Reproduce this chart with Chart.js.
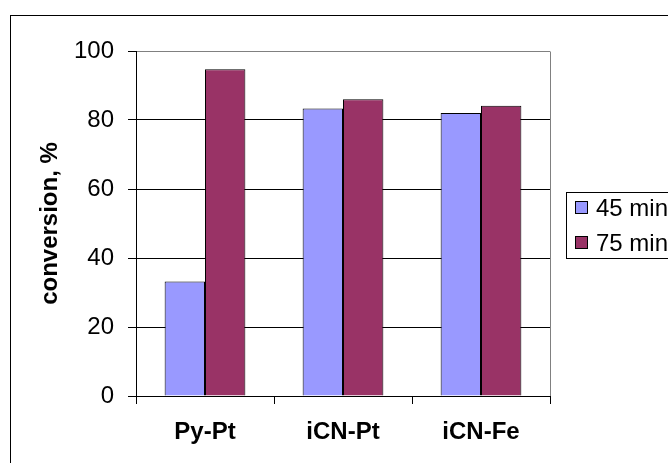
<!DOCTYPE html>
<html>
<head>
<meta charset="utf-8">
<script src="https://cdn.jsdelivr.net/npm/chart.js@4.4.0/dist/chart.umd.min.js"></script>
<style>
  html, body { margin: 0; padding: 0; background: #fff; }
  #wrap { width: 668px; height: 463px; }
</style>
</head>
<body>
<div id="wrap"><canvas id="c" width="668" height="463"></canvas></div>
<script>
const categories = ["Py-Pt", "iCN-Pt", "iCN-Fe"];
const seriesNames = ["45 min", "75 min"];
const values45 = [33.2, 83.3, 82.0];
const values75 = [94.7, 86.0, 84.1];
const yTicks = [0, 20, 40, 60, 80, 100];
const yTitle = "conversion, %";

const FONT = "Arial, 'Liberation Sans', sans-serif";
const colors = ["#9999FF", "#993366"];

const frame = {
  id: 'frame',
  beforeDraw(chart) {
    const ctx = chart.ctx;
    ctx.save();
    ctx.fillStyle = '#fff';
    ctx.fillRect(0, 0, chart.width, chart.height);
    ctx.strokeStyle = '#000';
    ctx.lineWidth = 1;
    ctx.strokeRect(10.5, 15.5, 1000, 1000);
    ctx.restore();
  },
  afterDatasetsDraw(chart) {
    const ctx = chart.ctx;
    const a = chart.chartArea;
    ctx.save();
    ctx.strokeStyle = '#808080';
    ctx.lineWidth = 1;
    ctx.beginPath();
    ctx.moveTo(Math.round(a.right) + 0.5, Math.round(a.top) + 0.5);
    ctx.lineTo(Math.round(a.right) + 0.5, Math.round(a.bottom));
    ctx.stroke();
    ctx.restore();
  },
  afterDraw(chart) {
    const ctx = chart.ctx;
    ctx.save();
    ctx.strokeStyle = '#000';
    ctx.lineWidth = 1;
    ctx.strokeRect(566.5, 192.5, 200, 66);
    ctx.font = "24px " + FONT;
    ctx.textBaseline = 'middle';
    ctx.textAlign = 'left';
    chart.data.datasets.forEach((ds, i) => {
      const yc = 208 + i * 35;
      ctx.fillStyle = ds.backgroundColor;
      ctx.fillRect(575.5, yc - 6.5, 12, 12);
      ctx.strokeRect(575.5, yc - 6.5, 12, 12);
      ctx.fillStyle = '#000';
      ctx.fillText(ds.label, 596, yc + 1);
    });
    ctx.restore();
  }
};

Chart.defaults.color = '#000';
Chart.defaults.font.family = FONT;

new Chart(document.getElementById('c'), {
  type: 'bar',
  data: {
    labels: categories,
    datasets: [
      { label: seriesNames[0], data: values45, backgroundColor: colors[0], borderColor: '#000', borderWidth: 1 },
      { label: seriesNames[1], data: values75, backgroundColor: colors[1], borderColor: '#000', borderWidth: 1 }
    ]
  },
  options: {
    responsive: false,
    animation: false,
    devicePixelRatio: 1,
    layout: { padding: { left: 0, right: 118, top: 51, bottom: 0 } },
    datasets: { bar: { categoryPercentage: 0.585, barPercentage: 1 } },
    plugins: { legend: { display: false }, tooltip: { enabled: false } },
    scales: {
      x: {
        afterFit(s) { s.height = 67; },
        grid: { drawOnChartArea: false, drawTicks: true, tickLength: 8, color: '#000', tickColor: '#000', offset: true },
        border: { color: '#000', width: 1 },
        ticks: { font: { size: 24, weight: 'bold' }, color: '#000', padding: 14 }
      },
      y: {
        min: 0, max: 100,
        afterFit(s) { s.width = 136; },
        afterBuildTicks(s) { s.ticks = yTicks.map(v => ({ value: v })); },
        grid: {
          color: (c) => (c.tick && c.tick.value === 100) ? '#808080' : '#000',
          tickColor: '#000', tickLength: 8, drawTicks: true
        },
        border: { color: '#000', width: 1 },
        ticks: { font: { size: 24 }, color: '#000', padding: 14 },
        title: { display: true, text: yTitle, font: { size: 24, weight: 'bold' }, color: '#000', padding: { top: 36, bottom: 0 } }
      }
    }
  },
  plugins: [frame]
});
</script>
</body>
</html>
